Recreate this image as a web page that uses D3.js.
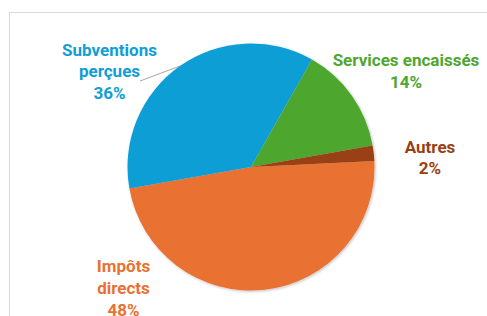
<!DOCTYPE html>
<html>
<head>
<meta charset="utf-8">
<script src="https://cdn.jsdelivr.net/npm/d3@7"></script>
<style>
  body { margin: 0; background: #fff; }
  .lbl { font-family: Roboto, "Liberation Sans", sans-serif; font-weight: 700; font-size: 17px; }
</style>
</head>
<body>
<svg id="chart" width="487" height="316"></svg>
<script>
// data, in Excel series order (clockwise)
const categories = ["Impôts directs", "Subventions perçues", "Services encaissés", "Autres"];
const values = [48, 36, 14, 2];
const colors = ["#E97132", "#0F9ED5", "#4EA72E", "#9A3F12"];
// label lines (text wrapped as in the original)
const labelLines = [["Impôts", "directs"], ["Subventions", "perçues"], ["Services encaissés"], ["Autres"]];

const svg = d3.select("#chart");
const width = +svg.attr("width");
const height = +svg.attr("height");

// chart area border
svg.append("rect")
  .attr("x", 9.5).attr("y", 12.5)
  .attr("width", width + 20).attr("height", height + 20)
  .attr("fill", "#fff")
  .attr("stroke", "#D9D9D9");

const defs = svg.append("defs");
const f = defs.append("filter").attr("id", "shadow")
  .attr("x", "-10%").attr("y", "-10%").attr("width", "120%").attr("height", "120%");
f.append("feDropShadow")
  .attr("dx", 1).attr("dy", 1).attr("stdDeviation", 1.5)
  .attr("flood-color", "#000").attr("flood-opacity", 0.25);

const cx = 251, cy = 167, radius = 123.5;

const data = categories.map((c, i) => ({ name: c, value: values[i], color: colors[i], lines: labelLines[i] }));

const pie = d3.pie()
  .sort(null)
  .value(d => d.value)
  .startAngle(87.2 * Math.PI / 180)
  .endAngle(87.2 * Math.PI / 180 + 2 * Math.PI);

const arc = d3.arc().innerRadius(0).outerRadius(radius);

const g = svg.append("g")
  .attr("transform", `translate(${cx}, ${cy})`);

g.append("g").attr("filter", "url(#shadow)")
  .selectAll("path").data(pie(data))
  .enter().append("path")
    .attr("d", arc)
    .attr("fill", d => d.data.color);

// leader line for the subventions label, to the middle of its slice edge
const subArc = pie(data)[1];
const leadAngle = (subArc.startAngle + subArc.endAngle) / 2;
const edge = [Math.sin(leadAngle) * radius + cx, -Math.cos(leadAngle) * radius + cy];
svg.append("line")
  .attr("x1", 140).attr("y1", 81)
  .attr("x2", edge[0]).attr("y2", edge[1])
  .attr("stroke", "#A6A6A6")
  .attr("stroke-width", 1);

// label anchors (center x, first baseline y)
const labelPos = [[123.5, 272.3], [109.5, 55.7], [406, 66], [430, 152.7]];
const lineGap = 21.7;

data.forEach((d, i) => {
  const t = svg.append("text")
    .attr("class", "lbl")
    .attr("text-anchor", "middle")
    .attr("fill", d.color);
  const lines = d.lines.concat([d3.format(".0%")(d.value / d3.sum(values))]);
  lines.forEach((ln, j) => {
    t.append("tspan")
      .attr("x", labelPos[i][0])
      .attr("y", labelPos[i][1] + j * lineGap)
      .text(ln);
  });
});
</script>
</body>
</html>
